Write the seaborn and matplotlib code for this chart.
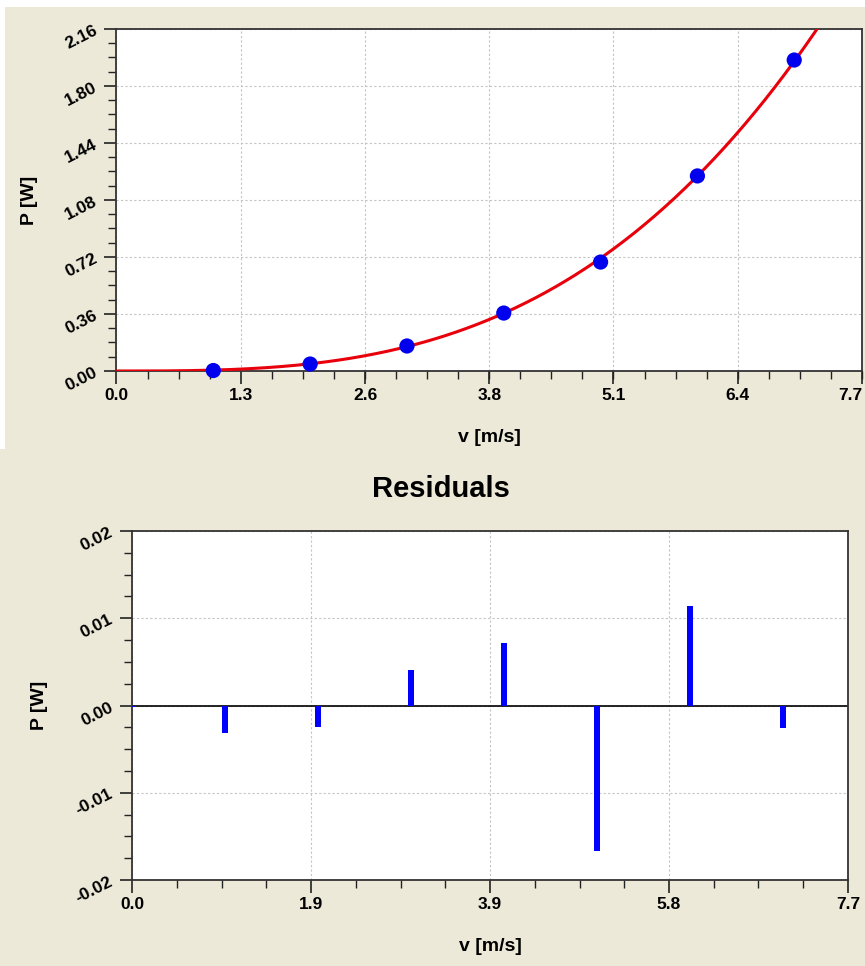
import seaborn as sns
import matplotlib.pyplot as plt
import numpy as np
import pandas as pd
from matplotlib.ticker import AutoMinorLocator
from matplotlib.patches import Rectangle
from matplotlib.transforms import ScaledTranslation

v = [1, 2, 3, 4, 5, 6, 7]
P = [0.003, 0.044, 0.158, 0.366, 0.688, 1.232, 1.964]

# residuals shown in the lower panel
res_v = [0, 1, 2, 3, 4, 5, 6, 7]
res_P = [-0.0002, -0.0032, -0.0025, 0.0041, 0.0072, -0.0167, 0.0114, -0.0026]

top_xticks = [0.0, 1.2833, 2.5667, 3.85, 5.1333, 6.4167, 7.7]
top_xlabels = ['0.0', '1.3', '2.6', '3.8', '5.1', '6.4', '7.7']
top_yticks = [0.00, 0.36, 0.72, 1.08, 1.44, 1.80, 2.16]
bot_xticks = [0.0, 1.925, 3.85, 5.775, 7.7]
bot_xlabels = ['0.0', '1.9', '3.9', '5.8', '7.7']
bot_yticks = [-0.02, -0.01, 0.00, 0.01, 0.02]

d = pd.DataFrame({'v': v, 'P': P})
r = pd.DataFrame({'v': res_v, 'res': res_P})

# cubic fit P = a*v^3 (least squares through the measured points)
v3 = d['v'] ** 3
a = (d['P'] * v3).sum() / (v3 ** 2).sum()
vv = np.linspace(0, 7.7, 300)
fit = pd.DataFrame({'v': vv, 'P': a * vv ** 3})

sns.set_style('white')
plt.rcParams['font.family'] = ['Liberation Sans', 'DejaVu Sans']
plt.rcParams['font.weight'] = 'bold'
plt.rcParams['text.color'] = 'black'
plt.rcParams['axes.labelcolor'] = 'black'
plt.rcParams['xtick.color'] = 'black'
plt.rcParams['ytick.color'] = 'black'

bg = '#ece9d8'
fig = plt.figure(figsize=(8.65, 9.66), dpi=100, facecolor=bg)
fig.patches.append(Rectangle((0, 1 - 7 / 966), 1, 7 / 966, transform=fig.transFigure,
                             facecolor='white', edgecolor='none', zorder=-1))
fig.patches.append(Rectangle((0, 1 - 449 / 966), 5 / 865, 449 / 966, transform=fig.transFigure,
                             facecolor='white', edgecolor='none', zorder=-1))

ax1 = fig.add_axes([116.5 / 865, 1 - 371 / 966, (862 - 116.5) / 865, (371 - 29) / 966])
ax2 = fig.add_axes([132 / 865, 1 - 880 / 966, (848 - 132) / 865, (880 - 531) / 966])

sns.lineplot(data=fit, x='v', y='P', ax=ax1, color='#e8000b', lw=2.2, zorder=3)
sns.scatterplot(data=d, x='v', y='P', ax=ax1, color='#0000ee', s=120, edgecolor='none',
                zorder=4, clip_on=False)
ax1.set_xlim(0, 7.7)
ax1.set_ylim(0, 2.16)
ax1.set_xticks(top_xticks)
ax1.set_xticklabels(top_xlabels)
ax1.set_yticks(top_yticks)
ax1.set_yticklabels([f'{t:.2f}' for t in top_yticks])

ax2.axhline(0, color='black', lw=1.2, zorder=2)
sns.barplot(data=r, x='v', y='res', ax=ax2, native_scale=True, width=0.07,
            color='#0000ff', saturation=1, edgecolor='none', zorder=3)
ax2.set_xlim(0, 7.7)
ax2.set_ylim(-0.02, 0.02)
ax2.set_xticks(bot_xticks)
ax2.set_xticklabels(bot_xlabels)
ax2.set_yticks(bot_yticks)
ax2.set_yticklabels([f'{t:.2f}' for t in bot_yticks])

for ax in (ax1, ax2):
    ax.set_facecolor('white')
    ax.xaxis.set_minor_locator(AutoMinorLocator(4))
    ax.yaxis.set_minor_locator(AutoMinorLocator(4))
    ax.tick_params(which='major', direction='out', length=9, width=1.2, color='#222222',
                   bottom=True, left=True, labelsize=12.5, pad=3)
    ax.tick_params(which='minor', direction='out', length=6, width=1.0, color='#222222',
                   bottom=True, left=True)
    ax.tick_params(axis='y', labelrotation=27)
    ax.tick_params(axis='x', pad=3)
    ax.grid(True, which='major', color='#c4c4c4', ls=(0, (2, 2)), lw=0.8)
    for s in ax.spines.values():
        s.set_visible(True)
        s.set_color('#333333')
        s.set_linewidth(1.3)
    ax.set_xlabel('v [m/s]', fontsize=14, fontweight='bold', labelpad=19)
    ax.set_ylabel('P [W]', fontsize=14, fontweight='bold', labelpad=18)
    for lbl in ax.get_xticklabels() + ax.get_yticklabels():
        lbl.set_fontweight('bold')

# last top label sits at the figure edge; nudge it left so it stays visible
last = ax1.get_xticklabels()[-1]
last.set_transform(last.get_transform() + ScaledTranslation(-12 / 100, 0, fig.dpi_scale_trans))

fig.text(441 / 865, 1 - 489 / 966, 'Residuals', ha='center', va='center',
         fontsize=21, fontweight='bold')

plt.savefig('out.png', dpi=100, facecolor=bg)
